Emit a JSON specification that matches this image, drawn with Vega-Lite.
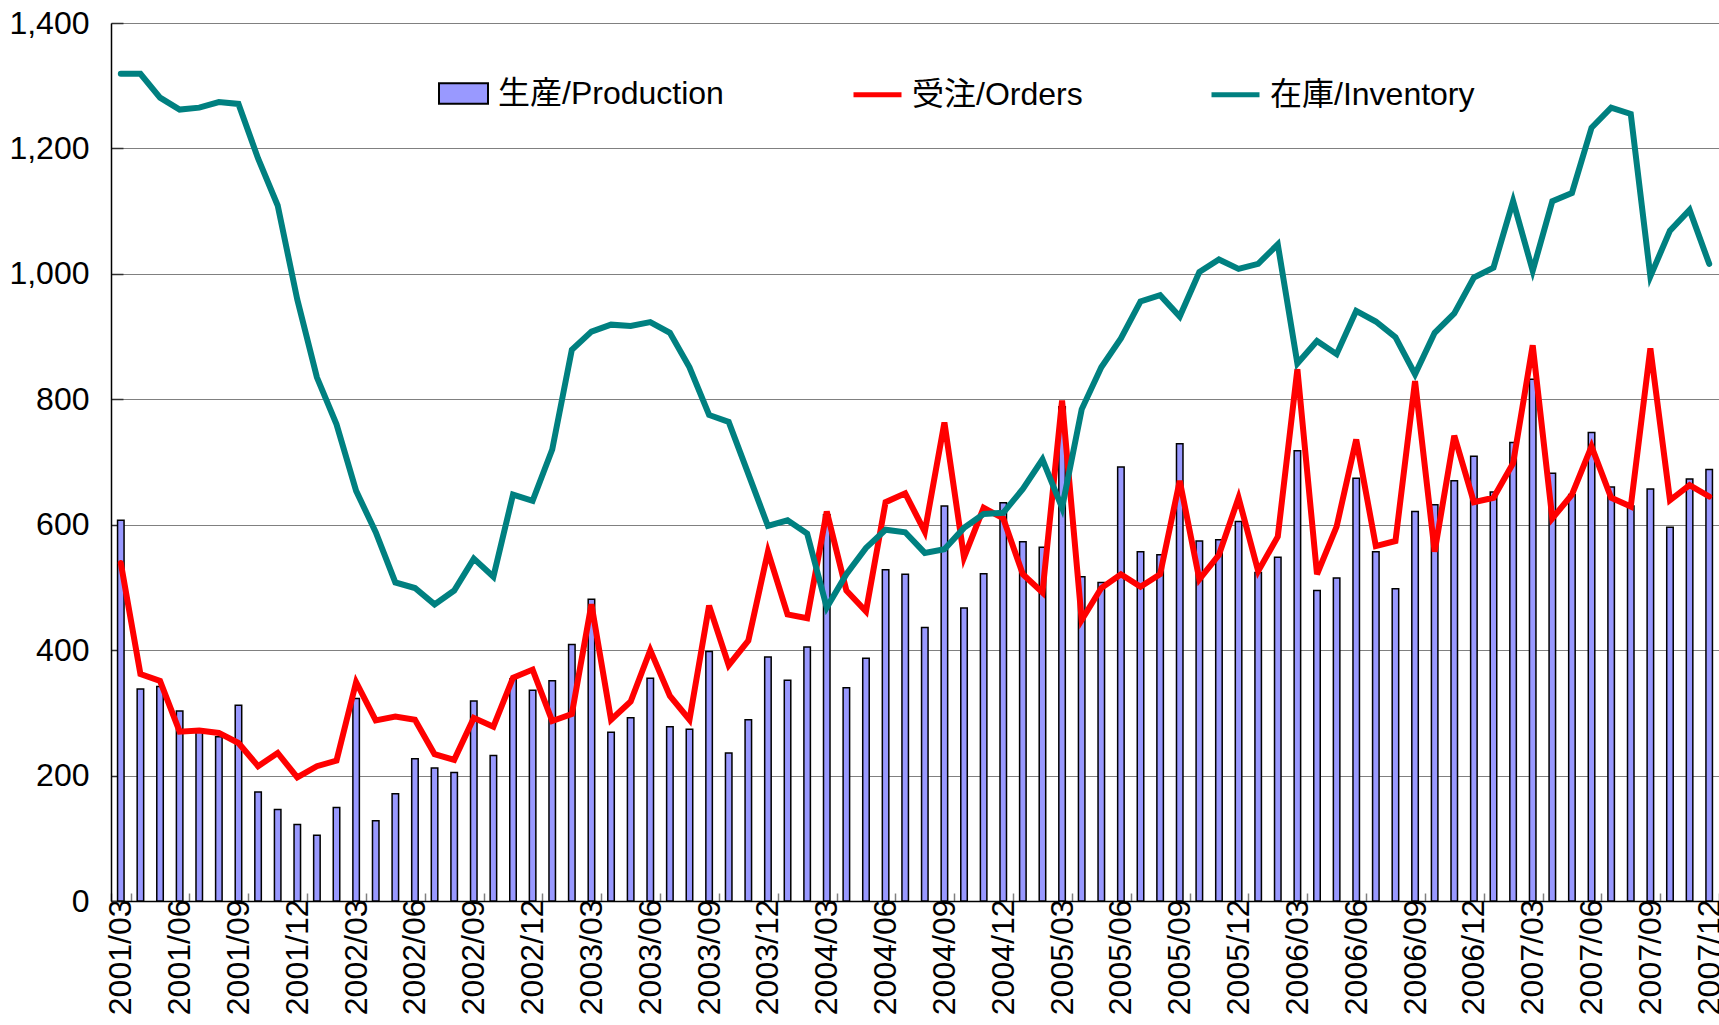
{
  "$schema": "https://vega.github.io/schema/vega-lite/v6.json",
  "width": 1608,
  "height": 878,
  "autosize": {"type": "none"},
  "padding": {"left": 111, "top": 23, "right": 0, "bottom": 124},
  "background": "white",
  "config": {
    "view": {"stroke": null},
    "font": "Liberation Sans",
    "axis": {"labelColor": "black", "labelFont": "Liberation Sans"},
    "legend": {"labelFont": "Liberation Sans, Noto Sans CJK JP", "labelColor": "black", "labelLimit": 500}
  },
  "data": {
    "values": [
      {"m": "2001/03", "生産/Production": 607, "受注/Orders": 539, "在庫/Inventory": 1319},
      {"m": "2001/04", "生産/Production": 338, "受注/Orders": 362, "在庫/Inventory": 1319},
      {"m": "2001/05", "生産/Production": 342, "受注/Orders": 351, "在庫/Inventory": 1281},
      {"m": "2001/06", "生産/Production": 303, "受注/Orders": 270, "在庫/Inventory": 1262},
      {"m": "2001/07", "生産/Production": 274, "受注/Orders": 272, "在庫/Inventory": 1265},
      {"m": "2001/08", "生産/Production": 262, "受注/Orders": 268, "在庫/Inventory": 1274},
      {"m": "2001/09", "生産/Production": 312, "受注/Orders": 252, "在庫/Inventory": 1271},
      {"m": "2001/10", "生産/Production": 174, "受注/Orders": 215, "在庫/Inventory": 1184},
      {"m": "2001/11", "生産/Production": 146, "受注/Orders": 236, "在庫/Inventory": 1109},
      {"m": "2001/12", "生産/Production": 122, "受注/Orders": 197, "在庫/Inventory": 959},
      {"m": "2002/01", "生産/Production": 105, "受注/Orders": 215, "在庫/Inventory": 835},
      {"m": "2002/02", "生産/Production": 149, "受注/Orders": 224, "在庫/Inventory": 760},
      {"m": "2002/03", "生産/Production": 323, "受注/Orders": 349, "在庫/Inventory": 654},
      {"m": "2002/04", "生産/Production": 128, "受注/Orders": 288, "在庫/Inventory": 588},
      {"m": "2002/05", "生産/Production": 171, "受注/Orders": 294, "在庫/Inventory": 508},
      {"m": "2002/06", "生産/Production": 227, "受注/Orders": 289, "在庫/Inventory": 499},
      {"m": "2002/07", "生産/Production": 212, "受注/Orders": 234, "在庫/Inventory": 473},
      {"m": "2002/08", "生産/Production": 205, "受注/Orders": 225, "在庫/Inventory": 495},
      {"m": "2002/09", "生産/Production": 319, "受注/Orders": 292, "在庫/Inventory": 546},
      {"m": "2002/10", "生産/Production": 232, "受注/Orders": 278, "在庫/Inventory": 517},
      {"m": "2002/11", "生産/Production": 354, "受注/Orders": 356, "在庫/Inventory": 648},
      {"m": "2002/12", "生産/Production": 336, "受注/Orders": 369, "在庫/Inventory": 638},
      {"m": "2003/01", "生産/Production": 351, "受注/Orders": 287, "在庫/Inventory": 720},
      {"m": "2003/02", "生産/Production": 409, "受注/Orders": 298, "在庫/Inventory": 879},
      {"m": "2003/03", "生産/Production": 481, "受注/Orders": 473, "在庫/Inventory": 908},
      {"m": "2003/04", "生産/Production": 269, "受注/Orders": 289, "在庫/Inventory": 919},
      {"m": "2003/05", "生産/Production": 292, "受注/Orders": 318, "在庫/Inventory": 917},
      {"m": "2003/06", "生産/Production": 355, "受注/Orders": 400, "在庫/Inventory": 923},
      {"m": "2003/07", "生産/Production": 278, "受注/Orders": 327, "在庫/Inventory": 906},
      {"m": "2003/08", "生産/Production": 274, "受注/Orders": 289, "在庫/Inventory": 851},
      {"m": "2003/09", "生産/Production": 398, "受注/Orders": 471, "在庫/Inventory": 775},
      {"m": "2003/10", "生産/Production": 236, "受注/Orders": 376, "在庫/Inventory": 764},
      {"m": "2003/11", "生産/Production": 289, "受注/Orders": 415, "在庫/Inventory": 681},
      {"m": "2003/12", "生産/Production": 389, "受注/Orders": 557, "在庫/Inventory": 598},
      {"m": "2004/01", "生産/Production": 352, "受注/Orders": 457, "在庫/Inventory": 607},
      {"m": "2004/02", "生産/Production": 405, "受注/Orders": 451, "在庫/Inventory": 586},
      {"m": "2004/03", "生産/Production": 616, "受注/Orders": 621, "在庫/Inventory": 468},
      {"m": "2004/04", "生産/Production": 340, "受注/Orders": 495, "在庫/Inventory": 521},
      {"m": "2004/05", "生産/Production": 387, "受注/Orders": 462, "在庫/Inventory": 563},
      {"m": "2004/06", "生産/Production": 528, "受注/Orders": 636, "在庫/Inventory": 592},
      {"m": "2004/07", "生産/Production": 521, "受注/Orders": 650, "在庫/Inventory": 588},
      {"m": "2004/08", "生産/Production": 436, "受注/Orders": 589, "在庫/Inventory": 555},
      {"m": "2004/09", "生産/Production": 630, "受注/Orders": 763, "在庫/Inventory": 561},
      {"m": "2004/10", "生産/Production": 467, "受注/Orders": 548, "在庫/Inventory": 595},
      {"m": "2004/11", "生産/Production": 522, "受注/Orders": 627, "在庫/Inventory": 617},
      {"m": "2004/12", "生産/Production": 635, "受注/Orders": 610, "在庫/Inventory": 619},
      {"m": "2005/01", "生産/Production": 573, "受注/Orders": 521, "在庫/Inventory": 657},
      {"m": "2005/02", "生産/Production": 564, "受注/Orders": 492, "在庫/Inventory": 704},
      {"m": "2005/03", "生産/Production": 788, "受注/Orders": 798, "在庫/Inventory": 627},
      {"m": "2005/04", "生産/Production": 517, "受注/Orders": 448, "在庫/Inventory": 784},
      {"m": "2005/05", "生産/Production": 508, "受注/Orders": 499, "在庫/Inventory": 851},
      {"m": "2005/06", "生産/Production": 692, "受注/Orders": 521, "在庫/Inventory": 897},
      {"m": "2005/07", "生産/Production": 557, "受注/Orders": 501, "在庫/Inventory": 956},
      {"m": "2005/08", "生産/Production": 552, "受注/Orders": 521, "在庫/Inventory": 966},
      {"m": "2005/09", "生産/Production": 729, "受注/Orders": 670, "在庫/Inventory": 932},
      {"m": "2005/10", "生産/Production": 574, "受注/Orders": 513, "在庫/Inventory": 1003},
      {"m": "2005/11", "生産/Production": 576, "受注/Orders": 552, "在庫/Inventory": 1023},
      {"m": "2005/12", "生産/Production": 605, "受注/Orders": 643, "在庫/Inventory": 1008},
      {"m": "2006/01", "生産/Production": 524, "受注/Orders": 526, "在庫/Inventory": 1016},
      {"m": "2006/02", "生産/Production": 548, "受注/Orders": 581, "在庫/Inventory": 1047},
      {"m": "2006/03", "生産/Production": 718, "受注/Orders": 848, "在庫/Inventory": 857},
      {"m": "2006/04", "生産/Production": 495, "受注/Orders": 521, "在庫/Inventory": 893},
      {"m": "2006/05", "生産/Production": 515, "受注/Orders": 597, "在庫/Inventory": 872},
      {"m": "2006/06", "生産/Production": 674, "受注/Orders": 736, "在庫/Inventory": 941},
      {"m": "2006/07", "生産/Production": 557, "受注/Orders": 566, "在庫/Inventory": 924},
      {"m": "2006/08", "生産/Production": 498, "受注/Orders": 574, "在庫/Inventory": 899},
      {"m": "2006/09", "生産/Production": 621, "受注/Orders": 829, "在庫/Inventory": 840},
      {"m": "2006/10", "生産/Production": 632, "受注/Orders": 557, "在庫/Inventory": 906},
      {"m": "2006/11", "生産/Production": 670, "受注/Orders": 742, "在庫/Inventory": 937},
      {"m": "2006/12", "生産/Production": 709, "受注/Orders": 636, "在庫/Inventory": 994},
      {"m": "2007/01", "生産/Production": 652, "受注/Orders": 643, "在庫/Inventory": 1010},
      {"m": "2007/02", "生産/Production": 731, "受注/Orders": 698, "在庫/Inventory": 1116},
      {"m": "2007/03", "生産/Production": 832, "受注/Orders": 886, "在庫/Inventory": 1005},
      {"m": "2007/04", "生産/Production": 682, "受注/Orders": 610, "在庫/Inventory": 1116},
      {"m": "2007/05", "生産/Production": 648, "受注/Orders": 648, "在庫/Inventory": 1129},
      {"m": "2007/06", "生産/Production": 747, "受注/Orders": 725, "在庫/Inventory": 1233},
      {"m": "2007/07", "生産/Production": 660, "受注/Orders": 643, "在庫/Inventory": 1265},
      {"m": "2007/08", "生産/Production": 630, "受注/Orders": 629, "在庫/Inventory": 1255},
      {"m": "2007/09", "生産/Production": 657, "受注/Orders": 881, "在庫/Inventory": 996},
      {"m": "2007/10", "生産/Production": 596, "受注/Orders": 639, "在庫/Inventory": 1069},
      {"m": "2007/11", "生産/Production": 673, "受注/Orders": 663, "在庫/Inventory": 1102},
      {"m": "2007/12", "生産/Production": 688, "受注/Orders": 645, "在庫/Inventory": 1016}
    ]
  },
  "encoding": {
    "x": {
      "field": "m",
      "type": "ordinal",
      "sort": null,
      "scale": {"type": "band", "paddingInner": 0, "paddingOuter": 0},
      "axis": {
        "title": null,
        "values": ["2001/03","2001/06","2001/09","2001/12","2002/03","2002/06","2002/09","2002/12","2003/03","2003/06","2003/09","2003/12","2004/03","2004/06","2004/09","2004/12","2005/03","2005/06","2005/09","2005/12","2006/03","2006/06","2006/09","2006/12","2007/03","2007/06","2007/09","2007/12"],
        "labelAngle": -90,
        "labelFontSize": 32,
        "labelPadding": 6,
        "tickBand": "extent",
        "tickSize": -8,
        "tickColor": "#808080",
        "tickWidth": 1.5,
        "domainColor": "black",
        "domainWidth": 1.5,
        "grid": false,
        "labelOverlap": false
      }
    }
  },
  "layer": [
    {
      "transform": [{"fold": ["生産/Production"], "as": ["s", "v"]}],
      "mark": {"type": "bar", "size": 6.5, "stroke": "black", "strokeWidth": 1.5},
      "encoding": {
        "y": {
          "field": "v",
          "type": "quantitative",
          "scale": {"domain": [0, 1400], "nice": false},
          "axis": {
            "title": null,
            "values": [0, 200, 400, 600, 800, 1000, 1200, 1400],
            "format": ",d",
            "labelFontSize": 32,
            "labelPadding": 34,
            "tickSize": -12,
            "tickColor": "#303030",
            "tickWidth": 1.5,
            "gridColor": "#808080",
            "gridWidth": 1,
            "domainColor": "black",
            "domainWidth": 1.5
          }
        },
        "fill": {
          "field": "s",
          "type": "nominal",
          "scale": {"range": ["#9999FF"]},
          "legend": {
            "orient": "none",
            "legendX": 327,
            "legendY": 45,
            "title": null,
            "padding": 0,
            "symbolType": "M-1,-0.42H1V0.42H-1Z",
            "symbolSize": 2401,
            "symbolStrokeColor": "black",
            "symbolStrokeWidth": 2,
            "symbolOpacity": 1,
            "labelFontSize": 32,
            "labelOffset": 9
          }
        }
      }
    },
    {
      "transform": [{"fold": ["受注/Orders", "在庫/Inventory"], "as": ["s", "v"]}],
      "mark": {"type": "line", "strokeWidth": 6, "strokeCap": "round", "strokeJoin": "miter"},
      "encoding": {
        "y": {"field": "v", "type": "quantitative"},
        "stroke": {
          "field": "s",
          "type": "nominal",
          "scale": {"domain": ["受注/Orders", "在庫/Inventory"], "range": ["#FF0000", "#008080"]},
          "legend": {
            "orient": "none",
            "legendX": 740,
            "legendY": 45,
            "direction": "horizontal",
            "title": null,
            "padding": 0,
            "symbolType": "stroke",
            "symbolSize": 2304,
            "symbolStrokeWidth": 5,
            "labelFontSize": 32,
            "labelOffset": 8,
            "columnPadding": 118
          }
        }
      }
    }
  ]
}
